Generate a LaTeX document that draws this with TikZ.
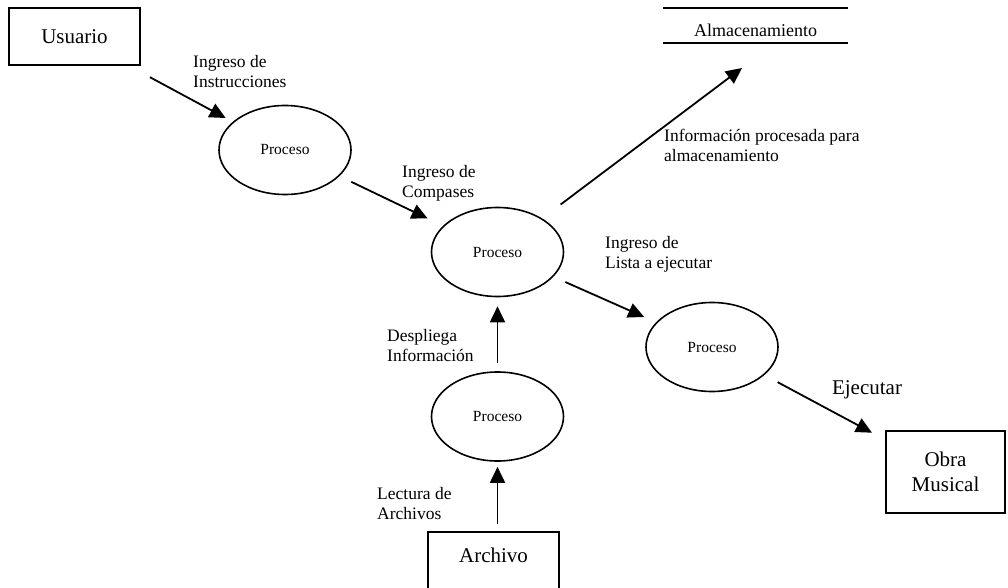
\documentclass[tikz,border=0pt]{standalone}
\usepackage{fontspec}
\setmainfont{Liberation Serif}
\usetikzlibrary{shapes.geometric,arrows.meta}

\begin{document}
\begin{tikzpicture}[x=1pt,y=-1pt,
    box/.style={draw,line width=1.6pt,inner sep=0pt,align=center,font=\fontsize{21}{24.5}\selectfont},
    proc/.style={ellipse,draw,line width=1.6pt,minimum width=132pt,minimum height=89pt,inner sep=0pt,font=\fontsize{15.5}{18}\selectfont},
    lbl/.style={inner sep=0pt,align=left,anchor=west,font=\fontsize{17.5}{20}\selectfont},
    flow/.style={-{Triangle[length=16pt,width=15pt]},line width=1.8pt}]
    \useasboundingbox (0,0) rectangle (1008,588);

    \node[box,minimum width=131pt,minimum height=57pt] (U) at (74.5,36.5) {Usuario};
    \node[inner sep=0pt,minimum width=185pt,minimum height=35pt,text height=23pt,text depth=0pt,font=\fontsize{18}{20}\selectfont] (alm) at (755.5,25.5) {Almacenamiento};
    \draw[line width=1.8pt] (alm.north west) -- (alm.north east) (alm.south west) -- (alm.south east);
    \node[proc] (P1) at (285,150) {Proceso};
    \node[proc] (P2) at (497.5,252) {Proceso};
    \node[proc] (P3) at (712,347) {Proceso};
    \node[proc] (P4) at (497.5,416.5) {Proceso};
    \node[box,minimum width=119pt,minimum height=82pt] (obra) at (945.5,472) {Obra\\Musical};
    \node[box,minimum width=131pt,minimum height=70pt,text depth=24pt] (arch) at (493.5,567) {Archivo};
    \coordinate (almin) at (742,68);

    \node[lbl] (l1) at (193,72) {Ingreso de\\Instrucciones};
    \node[lbl] (l2) at (402,183) {Ingreso de\\Compases};
    \node[lbl] (l3) at (664,145) {Información procesada para\\almacenamiento};
    \node[lbl] (l4) at (605,254) {Ingreso de\\Lista a ejecutar};
    \node[inner sep=0pt,font=\fontsize{21}{24}\selectfont] (l5) at (867,390) {Ejecutar};
    \node[lbl] (l6) at (387,346) {Despliega\\Información};
    \node[lbl] (l7) at (377,504) {Lectura de\\Archivos};

    \path (U) edge[flow,shorten <=24pt,shorten >=8pt] (P1);
    \path (P1) edge[flow,shorten <=13pt,shorten >=17pt] (P2);
    \path (P2) edge[flow,shorten <=23pt] (almin);
    \path (P2) edge[flow,shorten <=13pt,shorten >=13pt] (P3);
    \path (P3) edge[flow,shorten <=15pt,shorten >=15pt] (obra);
    \path (P4.north) edge[flow,shorten <=8pt,shorten >=9pt] (P2.south);
    \path (arch.north -| P4.south) edge[flow,shorten <=7pt,shorten >=5pt] (P4.south);
  \end{tikzpicture}
\end{document}
